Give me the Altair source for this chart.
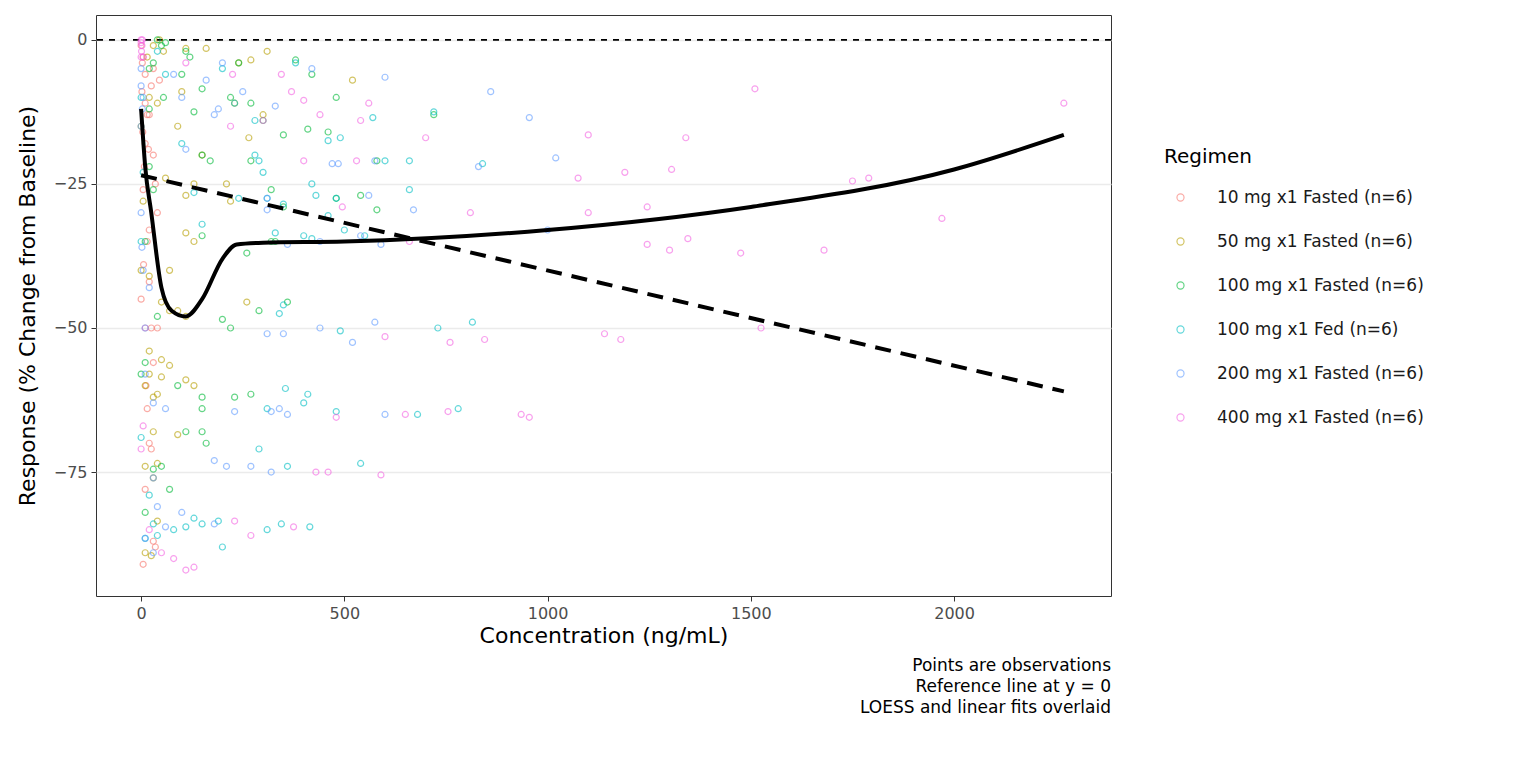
import pandas as pd
import altair as alt

regimens = ["10 mg x1 Fasted (n=6)", "50 mg x1 Fasted (n=6)", "100 mg x1 Fasted (n=6)",
            "100 mg x1 Fed (n=6)", "200 mg x1 Fasted (n=6)", "400 mg x1 Fasted (n=6)"]
colors = ["#F8766D", "#B79F00", "#00BA38", "#00BFC4", "#619CFF", "#F564E3"]

pts_10 = [(0,-1),(5,-3),(10,-6),(15,-13),(20,-13),(25,-8),(30,-20),(35,-25),(40,-30),(10,-18),
          (5,-26),(15,-35),(20,-42),(25,-50),(30,-56),(15,-64),(20,-70),(25,-71),(10,-78),(30,-87),
          (5,-91),(0,-45),(40,-50),(20,-33),(10,-11),(30,-5),(45,-7),(8,-22),(12,-60),(35,-88),
          (2,-9),(4,-16),(6,-39),(3,-4),(18,-19)]
pts_50 = [(160,-1.5),(110,-1.5),(55,-2),(270,-3.5),(240,-4),(310,-2),(520,-7),(300,-13),(230,-11),
          (150,-20),(110,-27),(210,-25),(220,-28),(265,-17),(100,-9),(90,-15),(40,-11),(20,-10),
          (60,-24),(130,-25),(130,-35),(110,-33.5),(70,-40),(70,-47),(110,-48),(90,-47),(50,-45.5),
          (260,-45.5),(20,-41),(20,-54),(20,-58),(50,-55.5),(50,-58.5),(70,-56.5),(110,-59),
          (130,-60),(40,-61.5),(30,-62),(10,-60),(90,-68.5),(30,-68),(30,-76),(10,-74),(40,-73.5),
          (10,-89),(40,-83.5),(25,-89.5),(0,-40),(5,-28),(0,-15),(45,0),(30,-1),(15,-3)]
pts_100 = [(720,-13),(480,-10),(380,-3.5),(420,-6),(460,-16),(580,-29.5),(580,-21),(540,-27),
           (480,-27.5),(410,-15.5),(350,-16.5),(350,-29),(320,-26),(300,-14),(270,-21),(270,-11),
           (240,-4),(220,-10),(150,-8.5),(130,-12.5),(100,-6),(110,-2),(50,-1),(20,-5),(55,-10),
           (30,-4),(150,-34),(150,-20),(170,-21),(260,-37),(320,-35),(330,-35),(290,-47),(220,-50),
           (200,-48.5),(360,-45.5),(150,-64),(150,-62),(110,-68),(150,-68),(90,-60),(160,-70),
           (50,-74),(30,-74.5),(70,-78),(10,-82),(10,-56),(40,-48),(230,-62),(270,-61.5),(10,-35),
           (20,-22),(0,-58),(30,-26),(20,-12),(40,0),(60,-0.5),(120,-3)]
pts_fed = [(720,-12.5),(660,-21),(600,-21),(570,-13.5),(840,-21.5),(490,-17),(460,-17.5),(420,-25),
           (430,-27),(480,-27.5),(660,-26),(550,-34),(500,-33),(460,-30.5),(420,-34.5),(400,-34),
           (330,-33.5),(300,-23),(280,-20),(290,-21),(240,-27.5),(150,-32),(130,-26.5),(100,-18),
           (200,-5),(230,-11),(280,-14),(310,-27.5),(350,-46),(340,-47.5),(490,-50.5),(730,-50),
           (815,-49),(780,-64),(680,-65),(480,-64.5),(410,-61.5),(400,-63),(355,-60.5),(310,-64),
           (290,-71),(360,-74),(540,-73.5),(310,-85),(345,-84),(415,-84.5),(150,-84),(190,-83.5),
           (200,-88),(130,-83),(110,-84.5),(80,-85),(40,-86),(20,-79),(30,-84),(0,-69),(10,-86.5),
           (350,-28.5),(380,-4),(10,-50),(0,-35),(5,-23),(0,-10),(60,-6),(40,-2)]
pts_200 = [(860,-9),(955,-13.5),(1020,-20.5),(830,-22),(1000,-33),(670,-29.5),(600,-6.5),(575,-21),
           (560,-27),(470,-21.5),(485,-21.5),(420,-5),(330,-11.5),(310,-27.5),(310,-29.5),(360,-35.5),
           (440,-35),(540,-34),(590,-35.5),(575,-49),(520,-52.5),(440,-50),(310,-51),(350,-51),
           (600,-65),(340,-64),(320,-64.5),(360,-65),(230,-64.5),(270,-74),(320,-75),(180,-73),
           (210,-74),(180,-84),(100,-82),(60,-84.5),(30,-89),(10,-86.5),(30,-76),(40,-81),(60,-64),
           (30,-63),(10,-58),(180,-13),(190,-12),(100,-10),(80,-6),(160,-7),(200,-4),(250,-9),
           (110,-19),(0,-5),(5,-10),(0,-15),(5,-40),(2,-36),(20,-43),(0,-30),(0,-8),(3,-12)]
pts_400 = [(1510,-8.5),(2270,-11),(1100,-16.5),(1340,-17),(1190,-23),(1305,-22.5),(1075,-24),
           (1750,-24.5),(1790,-24),(1970,-31),(1245,-29),(1100,-30),(810,-30),(700,-17),(1245,-35.5),
           (1345,-34.5),(1300,-36.5),(1475,-37),(1680,-36.5),(660,-35),(1525,-50),(1140,-51),
           (1180,-52),(845,-52),(760,-52.5),(600,-51.5),(935,-65),(955,-65.5),(755,-64.5),(650,-65),
           (480,-65.5),(590,-75.5),(430,-75),(460,-75),(375,-84.5),(270,-86),(230,-83.5),(110,-92),
           (130,-91.5),(80,-90),(50,-89),(20,-85),(0,-71),(5,-67),(10,-50),(0,0),(2,-1),(5,-3),
           (400,-21),(530,-21),(495,-29),(400,-10.5),(440,-13),(540,-14),(560,-11),(370,-9),
           (345,-6),(300,-14),(220,-15),(225,-6),(0,-0.5),(1,-2),(0,-3),(3,0),(110,-4)]

loess_x = [0, 10, 25, 50, 75, 110, 150, 200, 235, 300, 500, 1000, 1500, 2000, 2270]
loess_y = [-12, -22, -30, -43, -47, -48, -45, -38, -35.5, -35.2, -35, -33, -29, -22.5, -16.5]
lin_x = [0, 2270]
lin_y = [-23.5, -61]

rows = []
for reg, pts in zip(regimens, [pts_10, pts_50, pts_100, pts_fed, pts_200, pts_400]):
    for cx, cy in pts:
        rows.append({"conc": cx, "resp": cy, "Regimen": reg})
df = pd.DataFrame(rows)
loess = pd.DataFrame({"conc": loess_x, "resp": loess_y})
lin = pd.DataFrame({"conc": lin_x, "resp": lin_y})

xs = alt.Scale(domain=[-111, 2386], nice=False, zero=False)
ys = alt.Scale(domain=[-96.5, 4.3], nice=False, zero=False)

points = alt.Chart(df).mark_point(shape="circle", filled=False, size=36, opacity=0.6, strokeWidth=1.2).encode(
    x=alt.X("conc:Q", scale=xs, title="Concentration (ng/mL)",
            axis=alt.Axis(values=[0, 500, 1000, 1500, 2000], grid=False, format="d")),
    y=alt.Y("resp:Q", scale=ys, title="Response (% Change from Baseline)",
            axis=alt.Axis(values=[0, -25, -50, -75], gridColor="#EBEBEB", gridWidth=1.5,
                          titlePadding=14)),
    color=alt.Color("Regimen:N", scale=alt.Scale(domain=regimens, range=colors),
                    legend=alt.Legend(title="Regimen", symbolType="circle", symbolSize=50,
                                      symbolStrokeWidth=1.2, labelFontSize=17, titleFontSize=20,
                                      titleFontWeight="normal", rowPadding=26, labelColor="#1a1a1a",
                                      titleColor="#000", symbolOpacity=0.6, labelLimit=400,
                                      orient="none", legendX=1068, legendY=132, titlePadding=22,
                                      labelOffset=28, symbolOffset=8)),
)

ref = alt.Chart(pd.DataFrame({"resp": [0]})).mark_rule(color="black", strokeDash=[6, 6], strokeWidth=1.8).encode(
    y=alt.Y("resp:Q", scale=ys))
loess_line = alt.Chart(loess).mark_line(color="black", strokeWidth=4, interpolate="monotone").encode(
    x=alt.X("conc:Q", scale=xs), y=alt.Y("resp:Q", scale=ys))
lin_line = alt.Chart(lin).mark_line(color="black", strokeWidth=4, strokeDash=[16, 10]).encode(
    x=alt.X("conc:Q", scale=xs), y=alt.Y("resp:Q", scale=ys))

chart = alt.layer(ref, points, loess_line, lin_line).properties(
    width=1015, height=581,
    padding={"left": 8, "top": 7, "right": 5, "bottom": 5},
    title=alt.TitleParams(text=["Points are observations", "Reference line at y = 0",
                                "LOESS and linear fits overlaid"],
                          orient="bottom", anchor="end", frame="group", fontSize=17,
                          fontWeight="normal", font="DejaVu Sans", lineHeight=21, offset=12,
                          color="#000"),
).configure_view(stroke="#333333", strokeWidth=1).configure_axis(
    labelFont="DejaVu Sans", titleFont="DejaVu Sans", labelFontSize=16, labelColor="#4d4d4d",
    titleFontSize=22, titleFontWeight="normal", titleColor="#000", tickColor="#333333",
    domain=False, tickSize=5, labelPadding=4,
).configure_legend(labelFont="DejaVu Sans", titleFont="DejaVu Sans")

chart.save("out.html", embed_options={"renderer": "svg", "actions": False})
